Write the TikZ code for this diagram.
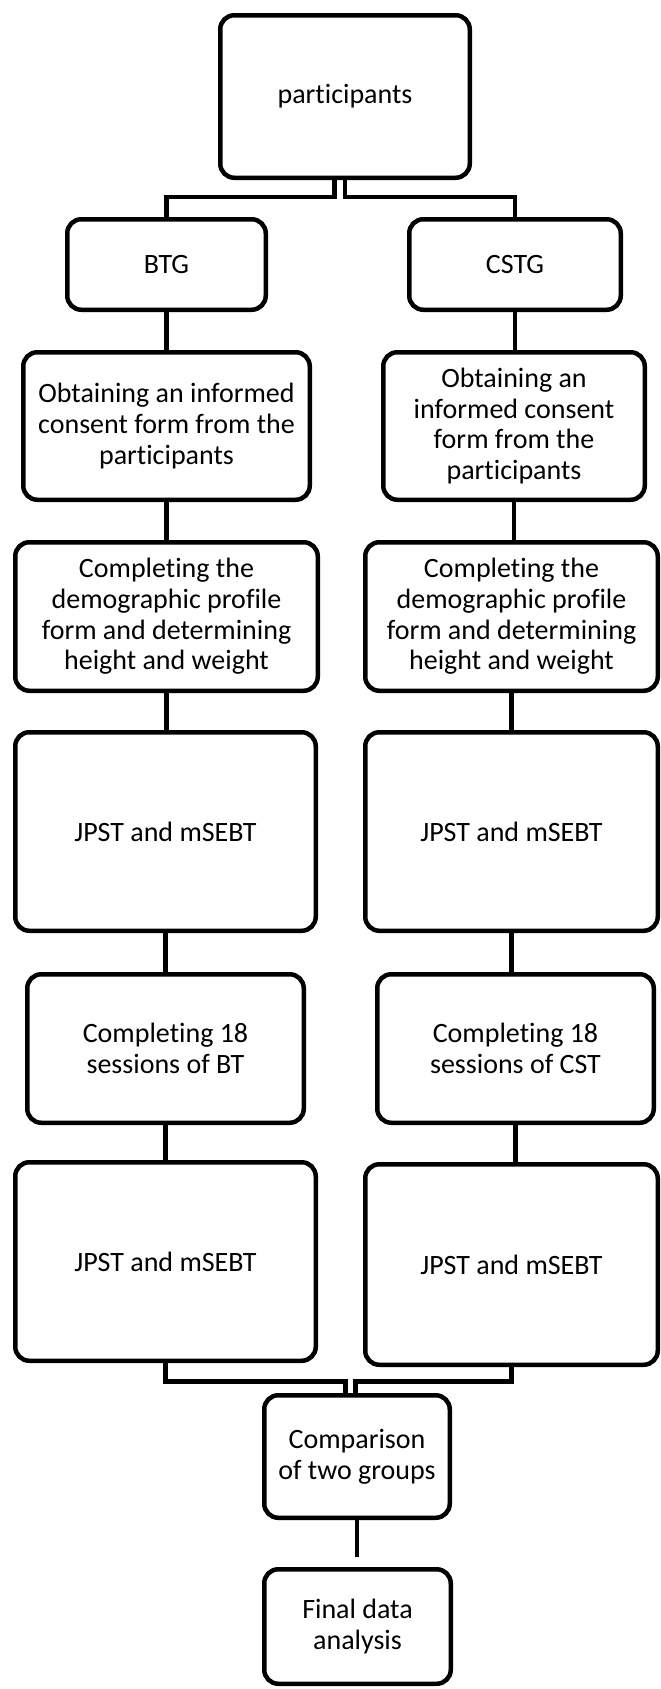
\documentclass[tikz,border=0pt]{standalone}
\usepackage{fontspec}
\setmainfont{Carlito}[Ligatures={NoCommon,NoContextual},Contextuals=NoAlternate]
\usetikzlibrary{calc}

\begin{document}
\begin{tikzpicture}[x=1pt,y=-1pt,
  box/.style={draw, line width=4.5pt, rounded corners=14pt, align=center,
    inner sep=2pt, font=\fontsize{28}{30.6}\selectfont},
  link/.style={line width=4.5pt}]
  \useasboundingbox (0,0) rectangle (661,1689);
  \node[box,minimum width=249.5pt,minimum height=162.5pt] (P) at (345,96.5) {participants};
  \node[box,minimum width=198.5pt,minimum height=90.5pt] (BTG) at (166.5,264.5) {BTG};
  \node[box,minimum width=211.5pt,minimum height=90.5pt] (CSTG) at (515,264.5) {CSTG};
  \node[box,minimum width=286.5pt,minimum height=147.5pt] (L1) at (166.5,426)
    {Obtaining an informed\\consent form from the\\participants};
  \node[box,minimum width=261.5pt,minimum height=147.5pt] (R1) at (514,426)
    {Obtaining an\\informed consent\\form from the\\participants};
  \node[box,minimum width=302.5pt,minimum height=148.5pt] (L2) at (166.5,616.5)
    {Completing the\\demographic profile\\form and determining\\height and weight};
  \node[box,minimum width=292.5pt,minimum height=148.5pt] (R2) at (511.5,616.5)
    {Completing the\\demographic profile\\form and determining\\height and weight};
  \node[box,minimum width=300.5pt,minimum height=198.5pt] (L3) at (165.5,831.5) {JPST and mSEBT};
  \node[box,minimum width=292.5pt,minimum height=198.5pt] (R3) at (511.5,831.5) {JPST and mSEBT};
  \node[box,minimum width=276.5pt,minimum height=148.5pt] (L4) at (165.5,1048.5)
    {Completing 18\\sessions of BT};
  \node[box,minimum width=276.5pt,minimum height=148.5pt] (R4) at (515.5,1048.5)
    {Completing 18\\sessions of CST};
  \node[box,minimum width=300.5pt,minimum height=198.5pt] (L5) at (165.5,1261.5) {JPST and mSEBT};
  \node[box,minimum width=292.5pt,minimum height=200.5pt] (R5) at (511.5,1264.5) {JPST and mSEBT};
  \node[box,minimum width=185.5pt,minimum height=122.5pt] (C) at (357,1456.5)
    {Comparison\\of two groups};
  \node[box,minimum width=186.5pt,minimum height=114.5pt] (F) at (357.5,1626.5)
    {Final data\\analysis};
  \coordinate (split) at (0,197);
  \coordinate (merge) at (0,1381.5);
  \coordinate (pl) at ([xshift=-10.5pt]P.south);
  \coordinate (cl) at ([xshift=-11.5pt]C.north);
  \coordinate (cr) at ([xshift=-1.5pt]C.north);
  \draw[link] (pl) -- (pl |- split) -| (BTG.north);
  \draw[link] (P.south) -- (P.south |- split) -| (CSTG.north);
  \draw[link] (BTG.south) -- (BTG.south |- L1.north);
  \draw[link] (L1.south) -- (L1.south |- L2.north);
  \draw[link] (L2.south) -- (L2.south |- L3.north);
  \draw[link] (L3.south) -- (L3.south |- L4.north);
  \draw[link] (L4.south) -- (L4.south |- L5.north);
  \draw[link] (CSTG.south) -- (CSTG.south |- R1.north);
  \draw[link] (R1.south) -- (R1.south |- R2.north);
  \draw[link] (R2.south) -- (R2.south |- R3.north);
  \draw[link] (R3.south) -- (R3.south |- R4.north);
  \draw[link] (R4.south) -- (R4.south |- R5.north);
  \draw[link] (L5.south) -- (L5.south |- merge) -| (cl);
  \draw[link] (R5.south) -- (R5.south |- merge) -| (cr);
  \draw[link,shorten >=10pt] (C.south) -- (C.south |- F.north);
\end{tikzpicture}
\end{document}
